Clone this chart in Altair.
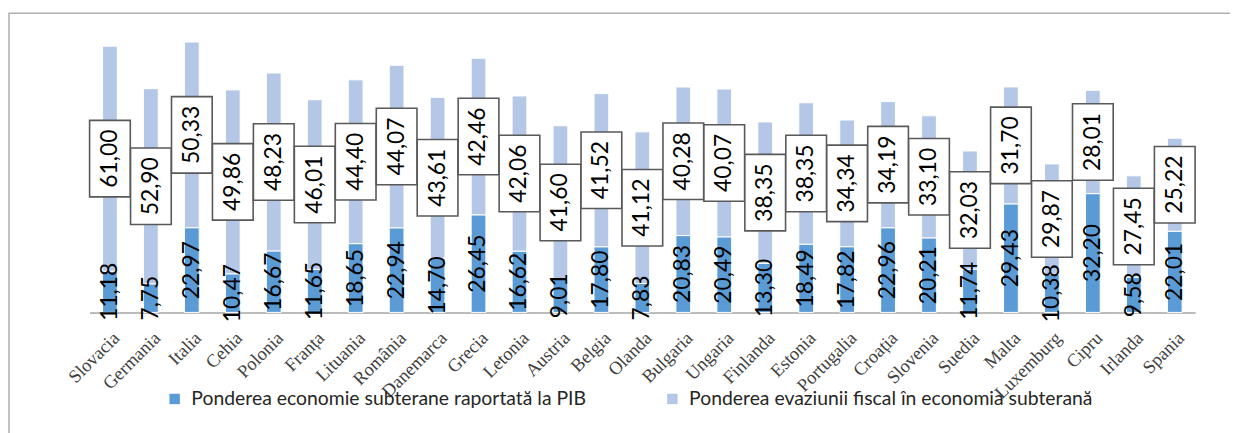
import altair as alt
import pandas as pd

countries = ["Slovacia", "Germania", "Italia", "Cehia", "Polonia", "Franța", "Lituania",
             "România", "Danemarca", "Grecia", "Letonia", "Austria", "Belgia", "Olanda",
             "Bulgaria", "Ungaria", "Finlanda", "Estonia", "Portugalia", "Croația",
             "Slovenia", "Suedia", "Malta", "Luxemburg", "Cipru", "Irlanda", "Spania"]
subterana = [11.18, 7.75, 22.97, 10.47, 16.67, 11.65, 18.65, 22.94, 14.70, 26.45, 16.62,
             9.01, 17.80, 7.83, 20.83, 20.49, 13.30, 18.49, 17.82, 22.96, 20.21, 11.74,
             29.43, 10.38, 32.20, 9.58, 22.01]
evaziune = [61.00, 52.90, 50.33, 49.86, 48.23, 46.01, 44.40, 44.07, 43.61, 42.46, 42.06,
            41.60, 41.52, 41.12, 40.28, 40.07, 38.35, 38.35, 34.34, 34.19, 33.10, 32.03,
            31.70, 29.87, 28.01, 27.45, 25.22]
series = ["Ponderea economie subterane raportată la PIB",
          "Ponderea evaziunii fiscal în economia subterană"]

def fmt(v):
    return f"{v:.2f}".replace(".", ",")

rows = []
for c, a, b in zip(countries, subterana, evaziune):
    rows.append({"tara": c, "serie": series[0], "y0": 0.0, "y1": a,
                 "mid": a / 2, "label": fmt(a)})
    rows.append({"tara": c, "serie": series[1], "y0": a, "y1": a + b,
                 "mid": a + b / 2, "label": fmt(b)})
df = pd.DataFrame(rows)

x = alt.X("tara:N", sort=countries, title=None,
          scale=alt.Scale(paddingInner=0.64, paddingOuter=0.32),
          axis=alt.Axis(labelAngle=-45, labelFont="Liberation Serif, Times New Roman, serif",
                        labelFontSize=18.5, labelFontWeight="normal",
                        labelColor="#404040", ticks=False, domainColor="#A6A6A6",
                        domainWidth=1.5, labelPadding=16, labelLimit=0,
                        labelAlign="right", labelBaseline="top"))
yscale = alt.Scale(domain=[0, 80])

base = alt.Chart(df)

bars = base.mark_bar(stroke="white", strokeWidth=1).encode(
    x=x,
    y=alt.Y("y0:Q", scale=yscale, axis=None),
    y2="y1:Q",
    color=alt.Color("serie:N", scale=alt.Scale(domain=series, range=["#5B9BD5", "#B4C7E7"]),
                    legend=alt.Legend(title=None, orient="none", direction="horizontal",
                                      legendX=76, legendY=374, symbolType="square",
                                      symbolSize=110, symbolStrokeWidth=0,
                                      labelFont="Lato", labelFontSize=19.5,
                                      labelColor="#262626", labelLimit=0,
                                      columnPadding=76, labelOffset=7, padding=0)),
)

dark_labels = base.transform_filter(alt.datum.serie == series[0]).mark_text(
    angle=270, font="Lato", fontSize=23, color="#000000", align="center", baseline="middle"
).encode(x=x, y=alt.Y("mid:Q", scale=yscale), text="label:N")

box_shape = "M-0.532,-1L0.532,-1L0.532,1L-0.532,1Z"
boxes = base.transform_filter(alt.datum.serie == series[1]).mark_point(
    shape=box_shape, size=5929, filled=True, fill="white", stroke="#595959",
    strokeWidth=1.6, opacity=1
).encode(x=x, y=alt.Y("mid:Q", scale=yscale))

box_labels = base.transform_filter(alt.datum.serie == series[1]).mark_text(
    angle=270, font="Lato", fontSize=23, color="#000000", align="center", baseline="middle"
).encode(x=x, y=alt.Y("mid:Q", scale=yscale), text="label:N")

border = alt.Chart(pd.DataFrame({"k": [0]})).mark_rect(
    fill=None, stroke="#B0B0B0", strokeWidth=1.5
).encode(x=alt.value(-81), x2=alt.value(1300), y=alt.value(-4), y2=alt.value(600))

chart = alt.layer(border, bars, dark_labels, boxes, box_labels).properties(
    width=1113, height=297,
    autosize=alt.AutoSizeParams(type="none"),
    padding={"left": 82, "top": 8, "right": 35, "bottom": 120},
).configure_view(stroke=None)

chart.save("out.html", embed_options={"renderer": "svg", "actions": False})
